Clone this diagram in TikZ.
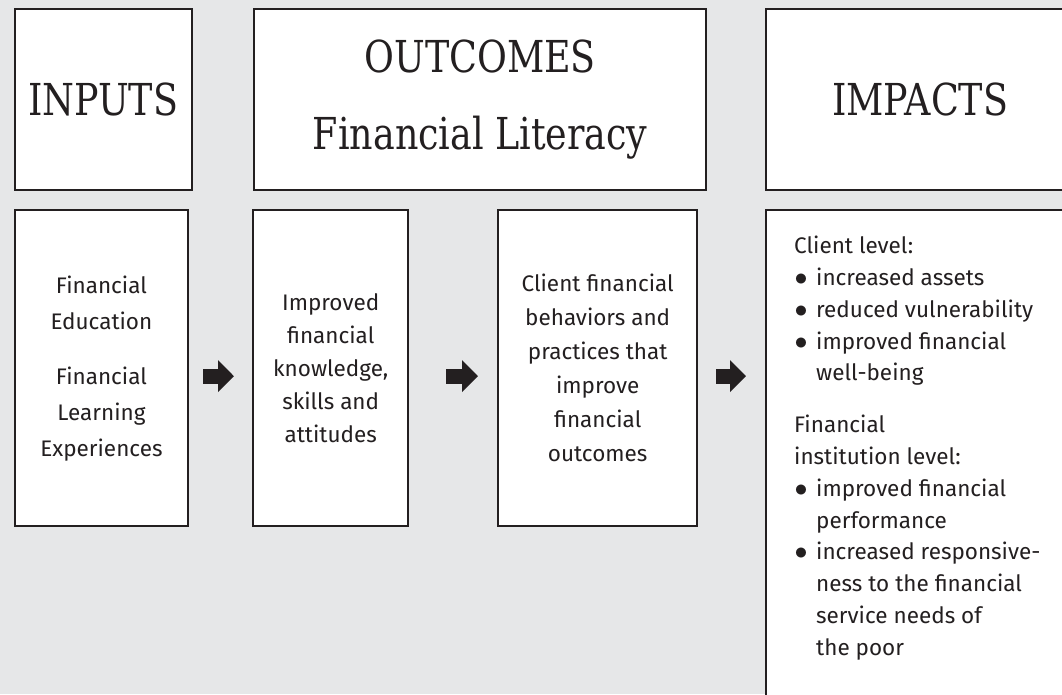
\documentclass[tikz,border=0pt]{standalone}
\usepackage{fontspec}
\setmainfont{Fira Sans}
\newfontfamily\headfont{DejaVu Serif Condensed}[FakeStretch=0.92]
\usetikzlibrary{calc,arrows.meta,positioning}
\definecolor{bg}{HTML}{E6E7E8}
\definecolor{ink}{HTML}{231F20}
\tikzset{
  panel/.style={draw=ink, fill=white, line width=2.4pt, anchor=north west, inner sep=0pt},
  head/.style={text=ink, font=\headfont\fontsize{44}{77}\selectfont, align=center},
  body/.style={text=ink, font=\fontsize{22.5}{33}\selectfont, align=center},
  flow/.style={draw=ink, line width=15pt, -{Triangle[length=16pt,width=31pt]}},
}
\newcommand{\bul}{\makebox[22pt][l]{\hspace{0.5pt}\scalebox{1.25}{$\bullet$}}}
\newcommand{\ind}{\hspace*{22pt}}

\begin{document}
\begin{tikzpicture}[x=1pt,y=-1pt]
\fill[bg] (0,0) rectangle (1062,694);
\useasboundingbox (0,0) rectangle (1062,694);

% headings
\node[panel, head, minimum width=177pt, minimum height=181pt] (inputs) at (13.5,7.5) {INPUTS};
\node[panel, head, minimum width=452pt, minimum height=181pt] (outcomes) at (253,7.5) {OUTCOMES\\Financial Literacy};
\node[panel, head, minimum width=308pt, minimum height=181pt] (impacts) at (765,7.5) {IMPACTS};

% chain
\node[panel, body, font=\fontsize{22.5}{36}\selectfont, minimum width=173.5pt, minimum height=316pt] (learn) at (13.5,209)
  {Financial\\Education\\[19pt]Financial\\Learning\\Experiences};
\node[panel, body, minimum width=155pt, minimum height=316pt] (know) at (252,209)
  {Improved\\financial\\knowledge,\\skills and\\attitudes};
\node[panel, body, font=\fontsize{22.5}{34}\selectfont, minimum width=199pt, minimum height=316pt] (behave) at (497,209)
  {Client financial\\behaviors and\\practices that\\improve\\financial\\outcomes};
\node[panel, minimum width=308pt, minimum height=500pt] (level) at (765,209) {};
\node[body, font=\fontsize{22.5}{31.8}\selectfont, align=left, anchor=north west, inner sep=0pt] (leveltext) at (794,236)
  {Client level:\\
   \bul increased assets\\
   \bul reduced vulnerability\\
   \bul improved financial\\
   \ind well-being\\[20pt]
   Financial\\
   institution level:\\
   \bul improved financial\\
   \ind performance\\
   \bul increased responsive-\\
   \ind ness to the financial\\
   \ind service needs of\\
   \ind the poor};

\draw[flow, shorten <=14pt, shorten >=18pt] ($(learn.east)+(0,8)$) -- ($(know.west)+(0,8)$);
\draw[flow, shorten <=37pt, shorten >=19pt] ($(know.east)+(0,8)$) -- ($(behave.west)+(0,8)$);
\draw[flow, shorten <=18pt, shorten >=19pt] ($(behave.east)+(0,8)$) -- ($(level.west |- behave.east)+(0,8)$);
\end{tikzpicture}
\end{document}
